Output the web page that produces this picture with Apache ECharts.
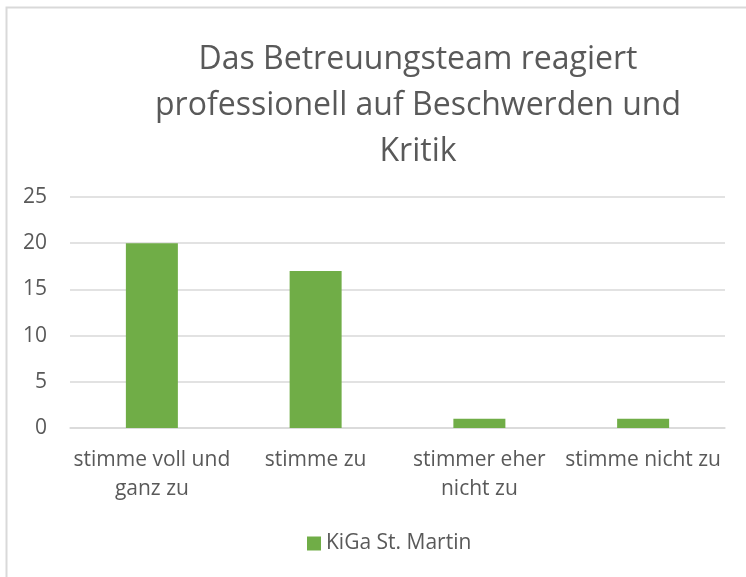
<!DOCTYPE html>
<html lang="de">
<head>
    <meta charset="UTF-8">
    <title></title>
    <script type="text/javascript" src="https://cdn.jsdelivr.net/npm/echarts@6/dist/echarts.min.js"></script>
    <style>html,body{margin:0;padding:0;background:#fff;}</style>
</head>
<body>
<div id="chart" style="width: 746px;height: 577px"></div>
<script type="text/javascript">
    var categories = ['stimme voll und\nganz zu', 'stimme zu', 'stimmer eher\nnicht zu', 'stimme nicht zu'];
    var values = [20, 17, 1, 1];
    var seriesName = 'KiGa St. Martin';
    var titleText = 'Das Betreuungsteam reagiert\nprofessionell auf Beschwerden und\nKritik';

    var font = 'Open Sans';
    var myChart = echarts.init(document.getElementById('chart'));
    var option = {
        textStyle: {fontFamily: font},
        graphic: [{
            type: 'rect',
            shape: {x: 6.5, y: 7.5, width: 800, height: 700},
            style: {fill: 'none', stroke: '#d9d9d9', lineWidth: 2},
            silent: true
        }],
        title: {
            text: titleText,
            left: 413,
            top: 32,
            textAlign: 'center',
            textStyle: {fontFamily: font, fontSize: 32, fontWeight: 'normal', color: '#595959', lineHeight: 46}
        },
        legend: {
            top: 528,
            left: 302,
            itemWidth: 14,
            itemHeight: 14,
            itemGap: 6,
            icon: 'rect',
            textStyle: {fontFamily: font, fontSize: 21, color: '#595959'},
            data: [seriesName]
        },
        grid: {left: 70, right: 21, top: 197, bottom: 149},
        xAxis: {
            type: 'category',
            data: categories,
            axisLine: {lineStyle: {color: '#d9d9d9', width: 1.5}},
            axisTick: {show: false},
            axisLabel: {fontFamily: font, fontSize: 21, color: '#595959', lineHeight: 29, margin: 18, interval: 0}
        },
        yAxis: {
            type: 'value',
            min: 0,
            max: 25,
            interval: 5,
            axisLine: {show: false},
            axisTick: {show: false},
            splitLine: {lineStyle: {color: '#d9d9d9', width: 1.5}},
            axisLabel: {fontFamily: font, fontSize: 21, color: '#595959', margin: 23}
        },
        series: [{
            name: seriesName,
            type: 'bar',
            data: values,
            barWidth: 52,
            itemStyle: {color: '#70ad47'}
        }]
    };
    myChart.setOption(option);
</script>
</body>
</html>
